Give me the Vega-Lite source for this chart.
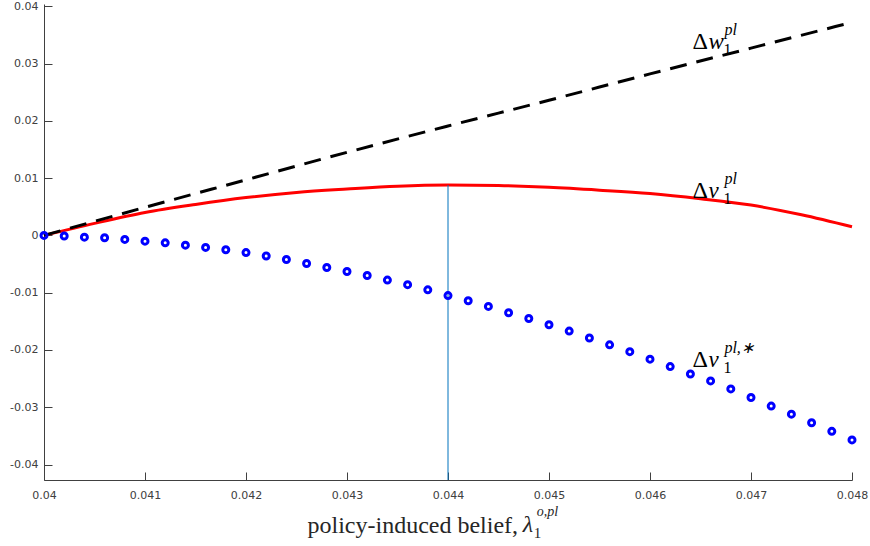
{
  "$schema": "https://vega.github.io/schema/vega-lite/v6.json",
  "width": 808,
  "height": 476,
  "autosize": {"type": "none"},
  "padding": {"left": 44, "top": 4, "right": 18, "bottom": 66},
  "background": "white",
  "config": {"view": {"stroke": null}},
  "datasets": {
    "w": [
      {"x": 0.040, "y": 0.0},
      {"x": 0.041, "y": 0.0049},
      {"x": 0.042, "y": 0.0097},
      {"x": 0.043, "y": 0.0145},
      {"x": 0.044, "y": 0.0191},
      {"x": 0.045, "y": 0.0236},
      {"x": 0.046, "y": 0.0282},
      {"x": 0.047, "y": 0.0327},
      {"x": 0.048, "y": 0.0372}
    ],
    "v": [
      {"x": 0.0400, "y": 0.0},
      {"x": 0.0405, "y": 0.0021},
      {"x": 0.0410, "y": 0.0040},
      {"x": 0.0415, "y": 0.0054},
      {"x": 0.0420, "y": 0.0066},
      {"x": 0.0425, "y": 0.0075},
      {"x": 0.0430, "y": 0.0081},
      {"x": 0.0435, "y": 0.0086},
      {"x": 0.0440, "y": 0.0088},
      {"x": 0.0445, "y": 0.0087},
      {"x": 0.0450, "y": 0.0084},
      {"x": 0.0455, "y": 0.0079},
      {"x": 0.0460, "y": 0.0073},
      {"x": 0.0465, "y": 0.0064},
      {"x": 0.0470, "y": 0.0053},
      {"x": 0.0475, "y": 0.0036},
      {"x": 0.0480, "y": 0.0015}
    ],
    "vstar": [
      {"x": 0.0400, "y": 0.0},
      {"x": 0.0402, "y": -0.0001},
      {"x": 0.0404, "y": -0.0003},
      {"x": 0.0406, "y": -0.0004},
      {"x": 0.0408, "y": -0.0007},
      {"x": 0.0410, "y": -0.0010},
      {"x": 0.0412, "y": -0.0013},
      {"x": 0.0414, "y": -0.0017},
      {"x": 0.0416, "y": -0.0021},
      {"x": 0.0418, "y": -0.0025},
      {"x": 0.0420, "y": -0.0030},
      {"x": 0.0422, "y": -0.0036},
      {"x": 0.0424, "y": -0.0042},
      {"x": 0.0426, "y": -0.0049},
      {"x": 0.0428, "y": -0.0056},
      {"x": 0.0430, "y": -0.0063},
      {"x": 0.0432, "y": -0.0070},
      {"x": 0.0434, "y": -0.0078},
      {"x": 0.0436, "y": -0.0086},
      {"x": 0.0438, "y": -0.0095},
      {"x": 0.0440, "y": -0.0105},
      {"x": 0.0442, "y": -0.0114},
      {"x": 0.0444, "y": -0.0124},
      {"x": 0.0446, "y": -0.0135},
      {"x": 0.0448, "y": -0.0145},
      {"x": 0.0450, "y": -0.0156},
      {"x": 0.0452, "y": -0.0167},
      {"x": 0.0454, "y": -0.0179},
      {"x": 0.0456, "y": -0.0191},
      {"x": 0.0458, "y": -0.0203},
      {"x": 0.0460, "y": -0.0216},
      {"x": 0.0462, "y": -0.0229},
      {"x": 0.0464, "y": -0.0242},
      {"x": 0.0466, "y": -0.0254},
      {"x": 0.0468, "y": -0.0268},
      {"x": 0.0470, "y": -0.0283},
      {"x": 0.0472, "y": -0.0298},
      {"x": 0.0474, "y": -0.0312},
      {"x": 0.0476, "y": -0.0327},
      {"x": 0.0478, "y": -0.0342},
      {"x": 0.0480, "y": -0.0357}
    ],
    "vline": [{"x": 0.044, "y": -0.0427, "y2": 0.0088}],
    "labels": [
      {"x": 0.04642, "y": 0.0326, "d": "Δ", "v": "w", "sup": "pl", "sub": "1"},
      {"x": 0.04642, "y": 0.0065, "d": "Δ", "v": "v", "sup": "pl", "sub": "1"},
      {"x": 0.04642, "y": -0.0229, "d": "Δ", "v": "v", "sup": "pl,∗", "sub": "1"}
    ],
    "xlab": [{"x": 0.04474, "y": -0.0518, "t": "λ", "sup": "o,pl", "sub": "1"}]
  },
  "layer": [
    {
      "data": {"name": "v"},
      "mark": {"type": "line", "color": "#FF0000", "strokeWidth": 3, "interpolate": "monotone"},
      "encoding": {
        "x": {
          "field": "x", "type": "quantitative",
          "scale": {"domain": [0.04, 0.048], "nice": false, "zero": false},
          "axis": {
            "values": [0.04, 0.041, 0.042, 0.043, 0.044, 0.045, 0.046, 0.047, 0.048],
            "labelExpr": "format(datum.value, '.3~f')",
            "grid": false,
            "domainColor": "#404040",
            "tickColor": "#404040",
            "tickSize": -8,
            "labelPadding": 17,
            "labelFont": "DejaVu Sans",
            "labelFontSize": 11,
            "labelColor": "#404040",
            "labelFlush": false,
            "title": "policy-induced belief,",
            "titleFont": "Liberation Serif",
            "titleFontSize": 24,
            "titleFontWeight": "normal",
            "titleColor": "#262626",
            "titleAlign": "left",
            "titleAnchor": null,
            "titleBaseline": "alphabetic",
            "titleX": 263,
            "titleY": 52
          }
        },
        "y": {
          "field": "y", "type": "quantitative",
          "scale": {"domain": [-0.0427, 0.0404], "nice": false, "zero": false},
          "axis": {
            "values": [-0.04, -0.03, -0.02, -0.01, 0, 0.01, 0.02, 0.03, 0.04],
            "labelExpr": "replace(format(datum.value, '.2~f'), '−', '-')",
            "grid": false,
            "domainColor": "#404040",
            "tickColor": "#404040",
            "tickSize": -8,
            "labelPadding": 14,
            "labelFont": "DejaVu Sans",
            "labelFontSize": 11,
            "labelColor": "#404040",
            "labelFlush": false,
            "title": null
          }
        }
      }
    },
    {
      "data": {"name": "w"},
      "mark": {"type": "line", "color": "#000000", "strokeWidth": 3, "strokeDash": [17, 10], "interpolate": "monotone"},
      "encoding": {
        "x": {"field": "x", "type": "quantitative"},
        "y": {"field": "y", "type": "quantitative"}
      }
    },
    {
      "data": {"name": "vline"},
      "mark": {"type": "rule", "color": "#0072BD", "strokeWidth": 1},
      "encoding": {
        "x": {"field": "x", "type": "quantitative"},
        "y": {"field": "y", "type": "quantitative"},
        "y2": {"field": "y2"}
      }
    },
    {
      "data": {"name": "vstar"},
      "mark": {"type": "point", "shape": "circle", "filled": false, "color": "#0000FF", "size": 36, "strokeWidth": 3, "opacity": 1},
      "encoding": {
        "x": {"field": "x", "type": "quantitative"},
        "y": {"field": "y", "type": "quantitative"}
      }
    },
    {
      "data": {"name": "labels"},
      "mark": {"type": "text", "align": "left", "baseline": "alphabetic", "font": "Liberation Serif", "fontSize": 24, "color": "#000000"},
      "encoding": {
        "x": {"field": "x", "type": "quantitative"},
        "y": {"field": "y", "type": "quantitative"},
        "text": {"field": "d"}
      }
    },
    {
      "data": {"name": "labels"},
      "mark": {"type": "text", "align": "left", "baseline": "alphabetic", "font": "Liberation Serif", "fontStyle": "italic", "fontSize": 23, "color": "#000000", "dx": 16},
      "encoding": {
        "x": {"field": "x", "type": "quantitative"},
        "y": {"field": "y", "type": "quantitative"},
        "text": {"field": "v"}
      }
    },
    {
      "data": {"name": "labels"},
      "mark": {"type": "text", "align": "left", "baseline": "alphabetic", "font": "Liberation Serif", "fontStyle": "italic", "fontSize": 16, "color": "#000000", "dx": 32, "dy": -14},
      "encoding": {
        "x": {"field": "x", "type": "quantitative"},
        "y": {"field": "y", "type": "quantitative"},
        "text": {"field": "sup"}
      }
    },
    {
      "data": {"name": "labels"},
      "mark": {"type": "text", "align": "left", "baseline": "alphabetic", "font": "Liberation Serif", "fontSize": 16, "color": "#000000", "dx": 31, "dy": 6},
      "encoding": {
        "x": {"field": "x", "type": "quantitative"},
        "y": {"field": "y", "type": "quantitative"},
        "text": {"field": "sub"}
      }
    },
    {
      "data": {"name": "xlab"},
      "mark": {"type": "text", "align": "left", "baseline": "alphabetic", "font": "Liberation Serif", "fontStyle": "italic", "fontSize": 24, "color": "#262626"},
      "encoding": {
        "x": {"field": "x", "type": "quantitative"},
        "y": {"field": "y", "type": "quantitative"},
        "text": {"field": "t"}
      }
    },
    {
      "data": {"name": "xlab"},
      "mark": {"type": "text", "align": "left", "baseline": "alphabetic", "font": "Liberation Serif", "fontStyle": "italic", "fontSize": 14, "color": "#262626", "dx": 14, "dy": -16},
      "encoding": {
        "x": {"field": "x", "type": "quantitative"},
        "y": {"field": "y", "type": "quantitative"},
        "text": {"field": "sup"}
      }
    },
    {
      "data": {"name": "xlab"},
      "mark": {"type": "text", "align": "left", "baseline": "alphabetic", "font": "Liberation Serif", "fontSize": 15, "color": "#262626", "dx": 11, "dy": 6},
      "encoding": {
        "x": {"field": "x", "type": "quantitative"},
        "y": {"field": "y", "type": "quantitative"},
        "text": {"field": "sub"}
      }
    }
  ]
}
